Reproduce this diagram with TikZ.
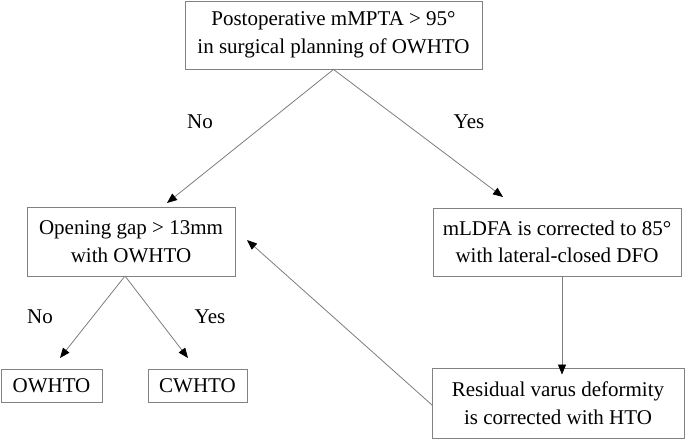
\documentclass[tikz,border=0pt]{standalone}
\usepackage{fontspec}
\setmainfont{Liberation Serif}
\usetikzlibrary{arrows.meta}
\definecolor{linegray}{RGB}{125,125,125}
\definecolor{boxgray}{RGB}{130,130,130}
\begin{document}
\begin{tikzpicture}[x=1pt,y=-1pt,
  flowbox/.style={draw=boxgray,line width=0.9pt,rectangle,inner sep=0pt,align=center,
    font=\fontsize{21}{27.5}\selectfont,text=black},
  lbl/.style={font=\fontsize{21}{24}\selectfont,text=black,inner sep=0pt},
  conn/.style={draw=linegray,line width=0.8pt,-{Triangle[length=10pt,width=8pt,color=black]}}]
\useasboundingbox (0,0) rectangle (685,439);
\node[flowbox,minimum width=297pt,minimum height=68pt] (top) at (333.5,35)
  {Postoperative mMPTA > 95°\\in surgical planning of OWHTO};
\node[flowbox,minimum width=208pt,minimum height=69pt] (gap) at (131,241.5)
  {Opening gap > 13mm\\with OWHTO};
\node[flowbox,minimum width=248pt,minimum height=68pt] (ldfa) at (557,242)
  {mLDFA is corrected to 85°\\with lateral-closed DFO};
\node[flowbox,minimum width=101pt,minimum height=33pt] (ow) at (51.5,385.5) {OWHTO};
\node[flowbox,minimum width=99pt,minimum height=33pt] (cw) at (197.5,385.5) {CWHTO};
\node[flowbox,minimum width=252pt,minimum height=70pt] (res) at (558,403)
  {Residual varus deformity\\is corrected with HTO};
\coordinate (t1) at (167,203);
\coordinate (t2) at (503,197);
\coordinate (t3) at (60,358);
\coordinate (t4) at (188,358);
\coordinate (t5) at (247,240);
\coordinate (gapfork) at (125,276);
\coordinate (resstart) at (432,405);
\draw[conn] (top.south) -- (t1);
\draw[conn] (top.south) -- (t2);
\draw[conn] (gapfork) -- (t3);
\draw[conn] (gapfork) -- (t4);
\draw[conn] (ldfa.south -| 562,0) -- ([yshift=-7pt]res.north -| 562,0);
\draw[conn] (resstart) -- (t5);
\node[lbl] (no1) at (200,122) {No};
\node[lbl] (yes1) at (469,122) {Yes};
\node[lbl] (no2) at (40,317) {No};
\node[lbl] (yes2) at (210,317) {Yes};
\end{tikzpicture}
\end{document}
